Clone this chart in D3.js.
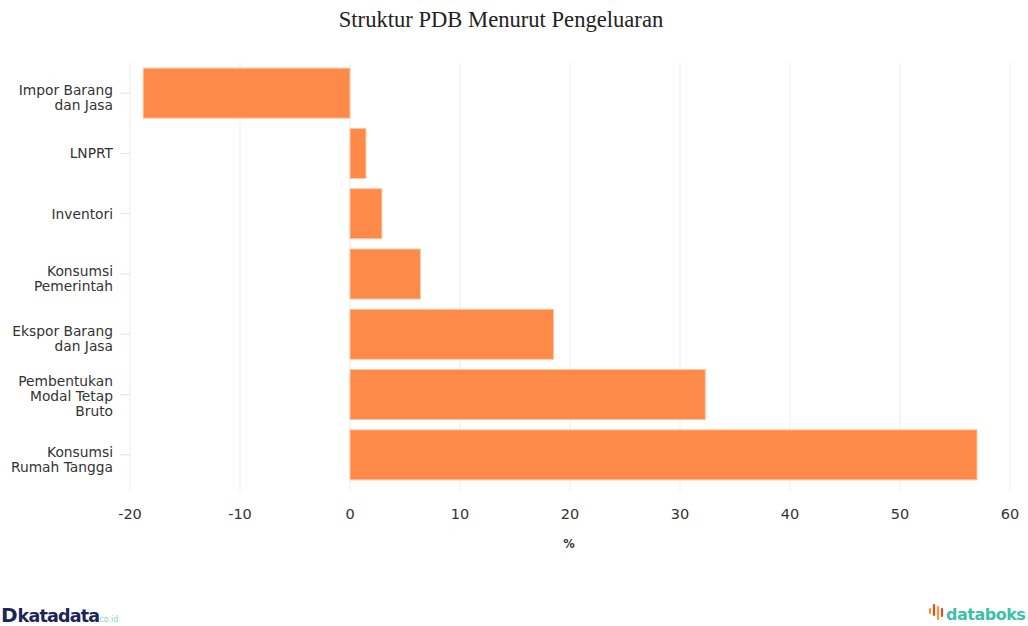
<!DOCTYPE html>
<html>
<head>
<meta charset="utf-8">
<script src="https://cdn.jsdelivr.net/npm/d3@7"></script>
<style>
  body { margin: 0; background: #fff; }
  svg { display: block; }
</style>
</head>
<body>
<svg id="chart" width="1028" height="626"></svg>
<script>
// Struktur PDB menurut pengeluaran (%)
const categories = [
  ["Impor Barang", "dan Jasa"],
  ["LNPRT"],
  ["Inventori"],
  ["Konsumsi", "Pemerintah"],
  ["Ekspor Barang", "dan Jasa"],
  ["Pembentukan", "Modal Tetap", "Bruto"],
  ["Konsumsi", "Rumah Tangga"]
];
const values = [-18.8, 1.45, 2.9, 6.4, 18.5, 32.3, 57.0];
const xTicks = [-20, -10, 0, 10, 20, 30, 40, 50, 60];

const svg = d3.select("#chart");
const plotLeft = 130, plotRight = 1010, plotTop = 63, plotBottom = 485;

const x = d3.scaleLinear().domain([-20, 60]).range([plotLeft, plotRight]);
const y = d3.scaleBand().domain(d3.range(categories.length)).range([plotTop, plotBottom]).paddingInner(0.17).paddingOuter(0.085);

// Title
svg.append("text")
  .attr("x", 501).attr("y", 27)
  .attr("text-anchor", "middle")
  .attr("font-family", "Liberation Serif, Times New Roman, serif")
  .attr("font-size", 22.6)
  .attr("fill", "#222")
  .text("Struktur PDB Menurut Pengeluaran");

// Vertical gridlines
svg.append("g").selectAll("line").data(xTicks).join("line")
  .attr("x1", d => x(d)).attr("x2", d => x(d))
  .attr("y1", plotTop).attr("y2", plotBottom + 6)
  .attr("stroke", "#ebebeb").attr("stroke-width", 1);

// Bars
svg.append("g").selectAll("rect").data(values).join("rect")
  .attr("x", d => x(Math.min(0, d)))
  .attr("width", d => Math.abs(x(d) - x(0)))
  .attr("y", (d, i) => y(i))
  .attr("height", y.bandwidth())
  .attr("fill", "#fd8a49")
  .attr("stroke", "#fdc7a4").attr("stroke-width", 1);

// Y axis ticks and labels
const yAxis = svg.append("g");
yAxis.selectAll("line").data(categories).join("line")
  .attr("x1", plotLeft - 10).attr("x2", plotLeft)
  .attr("y1", (d, i) => y(i) + y.bandwidth() / 2)
  .attr("y2", (d, i) => y(i) + y.bandwidth() / 2)
  .attr("stroke", "#e3e3e3");
// first-line baseline offset from the tick, by number of wrapped lines
const firstLineOffset = { 1: 5, 2: 1.7, 3: -8.5 };
yAxis.selectAll("text").data(categories).join("text")
  .attr("text-anchor", "end")
  .attr("font-family", "DejaVu Sans, Verdana, sans-serif")
  .attr("font-size", 13.8)
  .attr("fill", "#333")
  .each(function(lines, i) {
    const cy = y(i) + y.bandwidth() / 2;
    const lh = 15;
    const start = cy + firstLineOffset[lines.length];
    d3.select(this).selectAll("tspan").data(lines).join("tspan")
      .attr("x", 113)
      .attr("y", (t, j) => start + j * lh)
      .text(t => t);
  });

// X tick labels
svg.append("g").selectAll("text").data(xTicks).join("text")
  .attr("x", d => x(d)).attr("y", 519)
  .attr("text-anchor", "middle")
  .attr("font-family", "DejaVu Sans, Verdana, sans-serif")
  .attr("font-size", 14.5)
  .attr("fill", "#333")
  .text(d => String(d));

// X axis title
svg.append("text")
  .attr("x", 569).attr("y", 548)
  .attr("text-anchor", "middle")
  .attr("font-family", "DejaVu Sans, Verdana, sans-serif")
  .attr("font-size", 11.5).attr("font-weight", "bold")
  .attr("fill", "#333")
  .text("%");

// katadata logo
const kd = svg.append("text").attr("x", 1).attr("y", 622)
  .attr("font-family", "DejaVu Sans, Verdana, sans-serif")
  .attr("font-weight", "bold").attr("fill", "#1c2556");
kd.append("tspan").attr("font-size", 20).attr("font-weight", "900").text("D");
kd.append("tspan").attr("font-size", 17.5).attr("dx", 0).attr("letter-spacing", -0.8).text("katadata");
kd.append("tspan").attr("font-size", 8).attr("font-weight", "normal").attr("fill", "#8fd3c8").text("co.id");

// databoks logo
const icon = svg.append("g").attr("transform", "translate(930,612)");
[[0, -3, 4], [4, -7, 10], [8, -5, 12], [12, -3, 7]].forEach(([dx, y0, len], k) => {
  icon.append("line")
    .attr("x1", dx).attr("x2", dx).attr("y1", y0).attr("y2", y0 + len)
    .attr("stroke", k % 2 ? "#e8462f" : "#f39a2b").attr("stroke-width", 2.2)
    .attr("stroke-linecap", "round");
});
svg.append("text").attr("x", 946).attr("y", 620)
  .attr("font-family", "DejaVu Sans, Verdana, sans-serif")
  .attr("font-size", 16).attr("font-weight", "bold")
  .attr("letter-spacing", -0.5)
  .attr("fill", "#3dbfa8")
  .text("databoks");
</script>
</body>
</html>
